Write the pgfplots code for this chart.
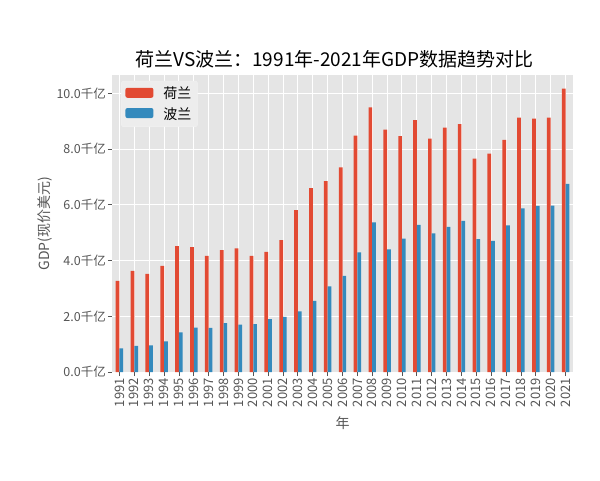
\documentclass[border=0pt]{standalone}
\usepackage{pgfplots}
\usepackage{pgfplotstable}
\pgfplotsset{compat=1.18}
\usepackage{fontspec}
\setmainfont{Noto Sans CJK SC}
\definecolor{bgc}{HTML}{E5E5E5}
\definecolor{nlred}{HTML}{E24A33}
\definecolor{plblue}{HTML}{348ABD}
\definecolor{txt}{HTML}{555555}
\pgfplotstableread{
x year nl pl
0 1991 3.27 0.85
1 1992 3.63 0.94
2 1993 3.52 0.96
3 1994 3.81 1.10
4 1995 4.52 1.42
5 1996 4.48 1.59
6 1997 4.17 1.58
7 1998 4.37 1.75
8 1999 4.44 1.70
9 2000 4.17 1.72
10 2001 4.31 1.90
11 2002 4.73 1.98
12 2003 5.81 2.18
13 2004 6.60 2.55
14 2005 6.85 3.07
15 2006 7.34 3.45
16 2007 8.48 4.29
17 2008 9.50 5.37
18 2009 8.70 4.40
19 2010 8.47 4.79
20 2011 9.04 5.28
21 2012 8.38 4.98
22 2013 8.77 5.21
23 2014 8.90 5.42
24 2015 7.66 4.77
25 2016 7.84 4.71
26 2017 8.33 5.26
27 2018 9.13 5.87
28 2019 9.09 5.96
29 2020 9.13 5.97
30 2021 10.17 6.75
}\gdpdata
\begin{document}
\begin{tikzpicture}
\begin{axis}[
  name=main,
  at={(0,0)}, anchor=south west,
  scale only axis,
  width=461pt, height=297pt,
  xmin=-0.5, xmax=30.5, ymin=0, ymax=10.66,
  axis background/.style={fill=bgc},
  axis line style={draw=none},
  grid=major,
  grid style={white, line width=1pt},
  tick align=outside,
  major tick length=4pt,
  tick style={txt, line width=0.8pt},
  xtick pos=bottom, ytick pos=left,
  xtick={0,...,30},
  xticklabels={1991,1992,1993,1994,1995,1996,1997,1998,1999,2000,2001,2002,2003,2004,2005,2006,2007,2008,2009,2010,2011,2012,2013,2014,2015,2016,2017,2018,2019,2020,2021},
  ytick={0,2,4,6,8,10},
  yticklabels={0.0千亿,2.0千亿,4.0千亿,6.0千亿,8.0千亿,10.0千亿},
  ticklabel style={font=\fontsize{12.5}{14}\selectfont, text=txt},
  xticklabel style={rotate=90, anchor=east, inner sep=2pt, font=\fontsize{13}{14}\selectfont},
  yticklabel style={inner sep=2pt},
  xlabel={年},
  ylabel={GDP(现价美元)},
  label style={font=\fontsize{14}{16}\selectfont, text=txt},
  xlabel style={yshift=-4pt},
  ylabel style={yshift=-1pt},
  title={荷兰VS波兰：1991年-2021年GDP数据趋势对比},
  title style={font=\fontsize{19}{22}\selectfont, yshift=-3pt, xshift=-8pt},
  legend style={at={(0.02,0.98)}, anchor=north west, fill=bgc!70!white, draw=white!90!gray, rounded corners=2pt, font=\fontsize{14}{16}\selectfont, row sep=3pt, inner sep=4pt},
  legend cell align=left,
  legend image code/.code={\fill[#1] (0pt,-4pt) rectangle (28pt,6pt); \path (36pt,0pt);},
]
\addplot[ybar, fill=nlred, draw=none, bar width=0.25, bar shift=-0.125] table[x=x, y=nl] {\gdpdata};
\addlegendentry{荷兰}
\addplot[ybar, fill=plblue, draw=none, bar width=0.25, bar shift=0.125] table[x=x, y=pl] {\gdpdata};
\addlegendentry{波兰}
\end{axis}
\pgfresetboundingbox
\path[use as bounding box] (-112pt,-108pt) rectangle (488pt,372pt);
\end{tikzpicture}
\end{document}
